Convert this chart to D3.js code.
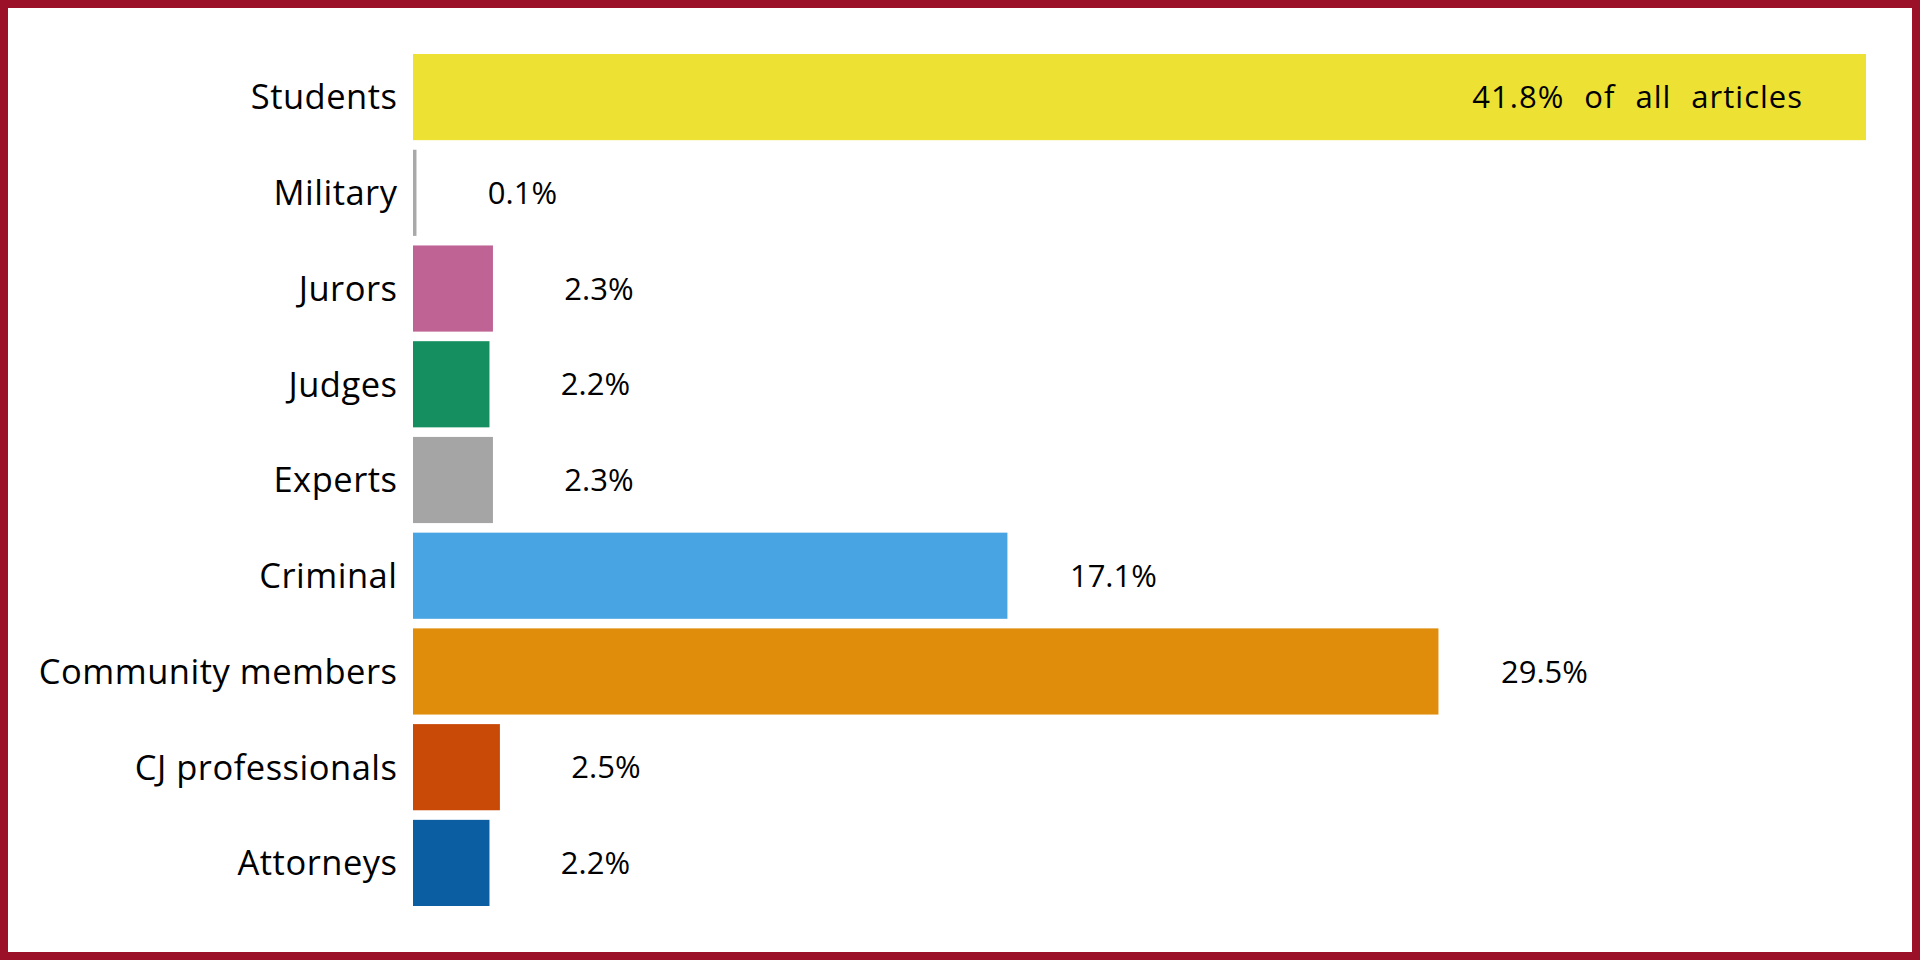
<!DOCTYPE html>
<html>
<head>
<meta charset="utf-8">
<script src="https://cdn.jsdelivr.net/npm/d3@7"></script>
<style>
  html, body { margin: 0; padding: 0; background: #fff; }
  svg { display: block; }
  text { font-family: "Open Sans", "DejaVu Sans", sans-serif; fill: #000; }
</style>
</head>
<body>
<svg id="chart" width="1920" height="960"></svg>
<script>
const categories = ["Students", "Military", "Jurors", "Judges", "Experts", "Criminal", "Community members", "CJ professionals", "Attorneys"];
const values = [41.8, 0.1, 2.3, 2.2, 2.3, 17.1, 29.5, 2.5, 2.2];
const valueLabels = ["41.8% of all articles", "0.1%", "2.3%", "2.2%", "2.3%", "17.1%", "29.5%", "2.5%", "2.2%"];
const colors = ["#EDE133", "#A9A9A9", "#BF6394", "#158F60", "#A5A5A5", "#48A4E2", "#DF8D0A", "#C94A06", "#0B5EA1"];

const data = categories.map((c, i) => ({ cat: c, v: values[i], label: valueLabels[i], color: colors[i] }));

const svg = d3.select("#chart");
const W = 1920, H = 960;

// frame
svg.append("rect").attr("x", 0).attr("y", 0).attr("width", W).attr("height", H).attr("fill", "#9B1128");
svg.append("rect").attr("x", 8).attr("y", 8).attr("width", W - 16).attr("height", H - 16).attr("fill", "#fff");

const x = d3.scaleLinear().domain([0, d3.max(values)]).range([413, 1866]);
const y = d3.scaleBand().domain(categories).range([54, 906]).paddingInner(0.1).paddingOuter(0);

svg.append("g").selectAll("rect").data(data).join("rect")
  .attr("x", x(0))
  .attr("y", d => y(d.cat))
  .attr("width", d => x(d.v) - x(0))
  .attr("height", y.bandwidth())
  .attr("fill", d => d.color);

// category labels
svg.append("g").selectAll("text").data(data).join("text")
  .attr("x", 397.5)
  .attr("y", d => y(d.cat) + y.bandwidth() / 2)
  .attr("dy", "0.36em")
  .attr("text-anchor", "end")
  .attr("font-size", 34.5)
  .attr("letter-spacing", 0.5)
  .text(d => d.cat);

// value labels
svg.append("g").selectAll("text").data(data).join("text")
  .attr("x", (d, i) => i === 0 ? x(d.v) - 63 : x(d.v) + 106)
  .attr("y", d => y(d.cat) + y.bandwidth() / 2)
  .attr("dy", "0.36em")
  .attr("text-anchor", (d, i) => i === 0 ? "end" : "middle")
  .attr("font-size", 31)
  .attr("word-spacing", (d, i) => i === 0 ? 11 : 0)
  .attr("letter-spacing", (d, i) => i === 0 ? 1 : 0)
  .text(d => d.label);
</script>
</body>
</html>
